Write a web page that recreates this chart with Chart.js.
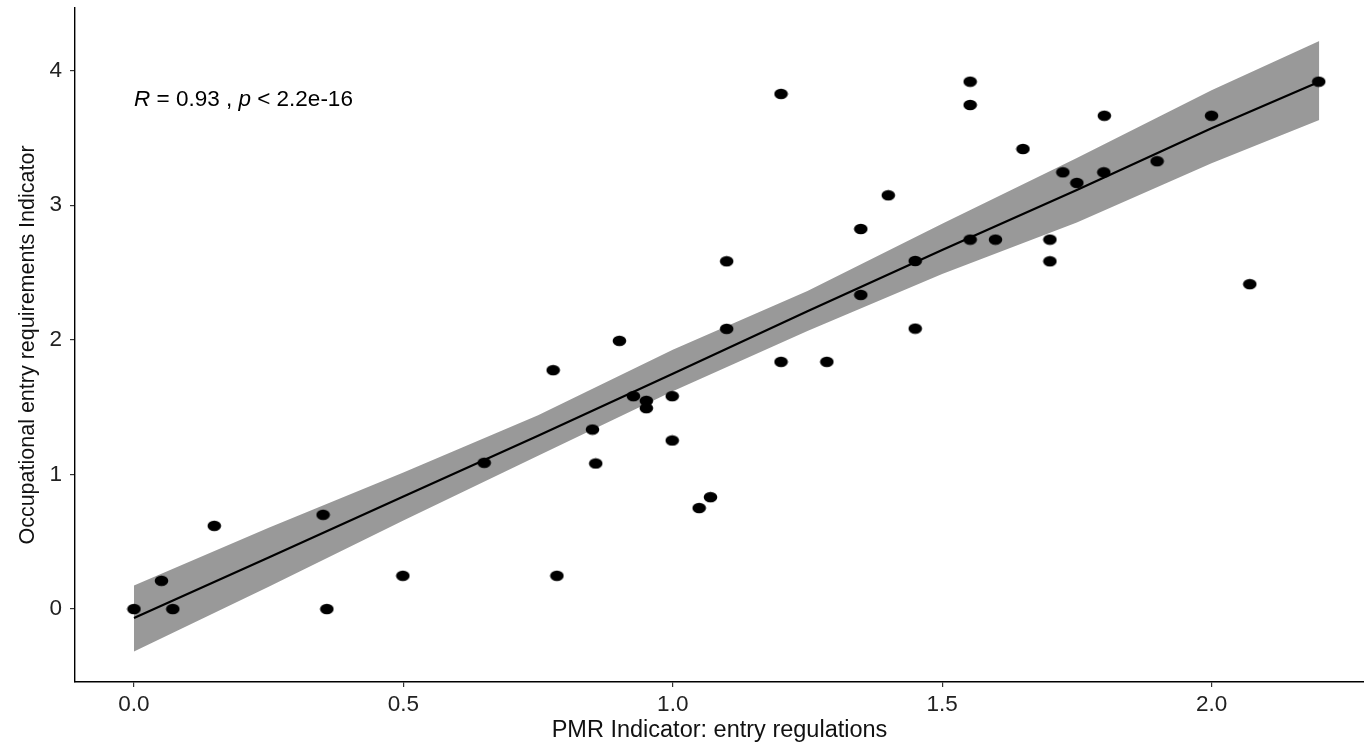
<!DOCTYPE html>
<html>
<head>
<meta charset="utf-8">
<script src="https://cdn.jsdelivr.net/npm/chart.js@4/dist/chart.umd.min.js"></script>
<style>
html,body{margin:0;padding:0;background:#fff;}
#wrap{width:1364px;height:745px;}
</style>
</head>
<body>
<div id="wrap"><canvas id="c" width="1364" height="745"></canvas></div>
<script>
// ---- data ----
const pmr = [0, 0.051, 0.072, 0.149, 0.351, 0.358, 0.499, 0.650, 0.778, 0.785,
             0.851, 0.857, 0.901, 0.927, 0.951, 0.951, 0.999, 0.999, 1.049, 1.070,
             1.100, 1.100, 1.201, 1.201, 1.286, 1.349, 1.349, 1.400, 1.450, 1.450,
             1.552, 1.552, 1.552, 1.599, 1.650, 1.700, 1.700, 1.724, 1.750, 1.801,
             1.800, 1.899, 2.000, 2.071, 2.199];
const occ = [0, 0.210, 0, 0.618, 0.700, 0, 0.247, 1.086, 1.774, 0.247,
             1.333, 1.081, 1.992, 1.581, 1.546, 1.492, 1.581, 1.252, 0.750, 0.831,
             2.081, 2.583, 1.836, 3.826, 1.836, 2.823, 2.333, 3.073, 2.585, 2.083,
             3.917, 3.744, 2.744, 2.744, 3.417, 2.744, 2.583, 3.244, 3.165, 3.664,
             3.244, 3.326, 3.664, 2.413, 3.917];

const fitX      = [0, 0.25, 0.5, 0.75, 1.0, 1.25, 1.5, 1.75, 2.0, 2.2];
const fitY      = [-0.067, 0.383, 0.836, 1.287, 1.747, 2.212, 2.667, 3.113, 3.571, 3.916];
const bandUpper = [0.175, 0.604, 1.014, 1.440, 1.925, 2.363, 2.861, 3.350, 3.853, 4.219];
const bandLower = [-0.315, 0.166, 0.658, 1.138, 1.618, 2.065, 2.489, 2.870, 3.311, 3.633];

const xTicks = [0, 0.5, 1.0, 1.5, 2.0];
const yTicks = [0, 1, 2, 3, 4];

const xTitle = "PMR Indicator: entry regulations";
const yTitle = "Occupational entry requirements Indicator";
const corR = "0.93";
const corP = "2.2e-16";
const annX = 0, annY = 3.78;

// ---- build ----
const pts = pmr.map((v, i) => ({x: v, y: occ[i]}));
const fitPts = fitX.map((v, i) => ({x: v, y: fitY[i]}));
const upPts = fitX.map((v, i) => ({x: v, y: bandUpper[i]}));
const loPts = fitX.map((v, i) => ({x: v, y: bandLower[i]}));

const FONT = "'Liberation Sans', Arial, sans-serif";

// elliptical dot marker
const dot = document.createElement('canvas');
dot.width = 15; dot.height = 12;
(function () {
  const g = dot.getContext('2d');
  g.fillStyle = '#000';
  g.beginPath();
  g.ellipse(7.5, 6, 6.8, 5.2, 0, 0, Math.PI * 2);
  g.fill();
})();

const annotate = {
  id: 'annotate',
  afterDatasetsDraw(chart) {
    const ctx = chart.ctx;
    const xs = chart.scales.x, ys = chart.scales.y;
    let x = xs.getPixelForValue(annX);
    const y = ys.getPixelForValue(annY);
    ctx.save();
    ctx.fillStyle = '#000';
    ctx.textBaseline = 'middle';
    ctx.textAlign = 'left';
    const parts = [
      ['italic', 'R'], ['normal', ' = ' + corR + ' , '], ['italic', 'p'], ['normal', ' < ' + corP]
    ];
    for (const [st, t] of parts) {
      ctx.font = st + ' 22.5px ' + FONT;
      ctx.fillText(t, x, y);
      x += ctx.measureText(t).width;
    }
    ctx.restore();
  }
};

new Chart(document.getElementById('c'), {
  type: 'scatter',
  data: {
    datasets: [
      {
        label: 'points', data: pts, order: 0,
        backgroundColor: '#000', borderColor: '#000',
        pointStyle: dot, pointRadius: 6, pointHoverRadius: 6, showLine: false
      },
      {
        label: 'fit', data: fitPts, order: 1, showLine: true,
        borderColor: '#000', borderWidth: 2.2, pointRadius: 0, fill: false, tension: 0
      },
      {
        label: 'upper', data: upPts, order: 2, showLine: true,
        borderWidth: 0, borderColor: 'rgba(0,0,0,0)', pointRadius: 0,
        backgroundColor: '#999999', fill: '+1', tension: 0
      },
      {
        label: 'lower', data: loPts, order: 3, showLine: true,
        borderWidth: 0, borderColor: 'rgba(0,0,0,0)', pointRadius: 0,
        fill: false, tension: 0
      }
    ]
  },
  options: {
    responsive: false,
    animation: false,
    devicePixelRatio: 1,
    layout: {autoPadding: false, padding: {top: 8, right: 0, left: 0, bottom: 0}},
    plugins: {legend: {display: false}, tooltip: {enabled: false}},
    scales: {
      x: {
        type: 'linear', min: -0.1095, max: 2.283,
        afterBuildTicks(s) { s.ticks = xTicks.map(v => ({value: v})); },
        afterFit(s) { s.height = 63; s.paddingLeft = 0; s.paddingRight = 0; },
        grid: {drawOnChartArea: false, drawTicks: true, tickLength: 5, color: '#333', lineWidth: 1.2},
        border: {display: true, color: '#000', width: 1.4},
        ticks: {
          color: '#222', font: {family: FONT, size: 22.5}, padding: 4,
          callback: v => Number(v).toFixed(1), maxRotation: 0, autoSkip: false
        },
        title: {display: true, text: xTitle, color: '#111', font: {family: FONT, size: 23.5}, padding: 0}
      },
      y: {
        type: 'linear', min: -0.542, max: 4.464,
        afterBuildTicks(s) { s.ticks = yTicks.map(v => ({value: v})); },
        afterFit(s) { s.width = 75; s.paddingTop = 0; s.paddingBottom = 0; },
        grid: {drawOnChartArea: false, drawTicks: true, tickLength: 5, color: '#333', lineWidth: 1.2},
        border: {display: true, color: '#000', width: 1.4},
        ticks: {
          color: '#222', font: {family: FONT, size: 22.5}, padding: 8,
          callback: v => String(v), autoSkip: false
        },
        title: {display: true, text: yTitle, color: '#111', font: {family: FONT, size: 21.5}, padding: 15}
      }
    }
  },
  plugins: [annotate]
});
</script>
</body>
</html>
